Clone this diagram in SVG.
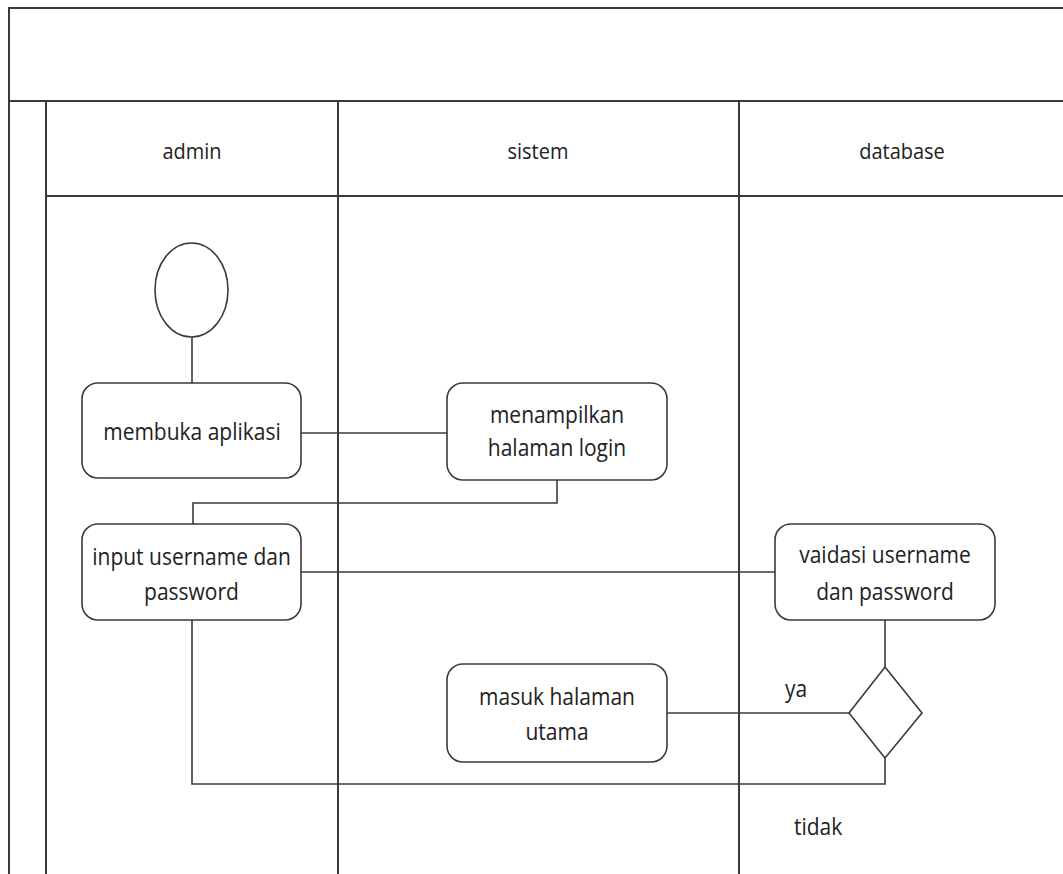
<svg xmlns="http://www.w3.org/2000/svg" width="1063" height="874" viewBox="0 0 1063 874">
<style>
.frame{fill:none;stroke:#3a3a3a;stroke-width:2}
.node{fill:#fff;stroke:#3a3a3a;stroke-width:1.6}
.conn{fill:none;stroke:#3a3a3a;stroke-width:1.6}
.hdr{font-family:"Open Sans","Noto Sans",sans-serif;font-size:20px;fill:#222;text-anchor:middle}
.lbl{font-family:"Open Sans","Noto Sans",sans-serif;font-size:21px;fill:#222;text-anchor:middle}
.lbs{font-family:"Open Sans","Noto Sans",sans-serif;font-size:21px;fill:#222}
</style>
<rect width="1063" height="874" fill="#fff"/>
<g id="swimlanes">
<path class="frame" d="M9,874 V8 H1063 M9,101 H1063 M46,101 V874 M338,101 V874 M739,101 V874 M46,196 H1063"/>
<text class="hdr" transform="translate(192,159) scale(1,1.1)">admin</text>
<text class="hdr" transform="translate(538,159) scale(1,1.1)">sistem</text>
<text class="hdr" transform="translate(902,159) scale(1,1.1)">database</text>
</g>
<g id="connectors">
<path class="conn" d="M192,337 V383"/>
<path class="conn" d="M301,433 H447"/>
<path class="conn" d="M557,480 V503 H193 V524"/>
<path class="conn" d="M301,572 H775"/>
<path class="conn" d="M885,620 V667"/>
<path class="conn" d="M849,713 H667"/>
<path class="conn" d="M885,758 V784 H192 V620"/>
</g>
<g id="start">
<ellipse class="node" cx="191.5" cy="290" rx="36.5" ry="47"/>
</g>
<g id="membuka">
<rect class="node" x="82" y="383" width="219" height="95" rx="16"/>
<text class="lbl" transform="translate(192,440) scale(1,1.15)">membuka aplikasi</text>
</g>
<g id="menampilkan">
<rect class="node" x="447" y="383" width="220" height="97" rx="16"/>
<text class="lbl" transform="translate(557,423) scale(1,1.15)">menampilkan</text>
<text class="lbl" transform="translate(557,456) scale(1,1.15)">halaman login</text>
</g>
<g id="input">
<rect class="node" x="82" y="524" width="219" height="96" rx="16"/>
<text class="lbl" transform="translate(191.5,565) scale(1,1.15)">input username dan</text>
<text class="lbl" transform="translate(191.5,600) scale(1,1.15)">password</text>
</g>
<g id="vaidasi">
<rect class="node" x="775" y="524" width="220" height="96" rx="16"/>
<text class="lbl" transform="translate(885,563) scale(1,1.15)">vaidasi username</text>
<text class="lbl" transform="translate(885,600) scale(1,1.15)">dan password</text>
</g>
<g id="decision">
<polygon class="node" points="885,667 922,713 885,758 849,713"/>
</g>
<g id="masuk">
<rect class="node" x="447" y="664" width="220" height="98" rx="16"/>
<text class="lbl" transform="translate(557,705) scale(1,1.15)">masuk halaman</text>
<text class="lbl" transform="translate(557,740) scale(1,1.15)">utama</text>
</g>
<g id="labels">
<text class="lbs" transform="translate(785,697) scale(1,1.15)">ya</text>
<text class="lbs" transform="translate(794,835) scale(1,1.15)">tidak</text>
</g>
</svg>
